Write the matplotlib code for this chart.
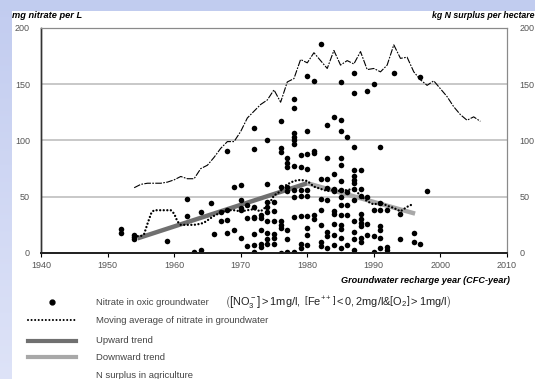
import numpy as np
import matplotlib
matplotlib.use("Agg")
import matplotlib.pyplot as plt
from matplotlib.lines import Line2D

plt.rcParams['font.family'] = ['Liberation Sans', 'DejaVu Sans']
plt.rcParams['mathtext.fontset'] = 'custom'
plt.rcParams['mathtext.rm'] = 'Liberation Sans'
plt.rcParams['mathtext.it'] = 'Liberation Sans:italic'

# N surplus in agriculture (kg N per hectare, right axis)
surplus_years = list(range(1954, 2007))
surplus_vals = [58, 61, 62, 62, 62, 63, 65, 68, 66, 66, 75, 78, 85, 93, 99, 99,
                108, 120, 126, 132, 136, 145, 134, 152, 155, 172, 169, 178, 171,
                164, 180, 167, 171, 168, 179, 163, 164, 161, 167, 185, 173, 174,
                161, 154, 149, 153, 146, 139, 130, 123, 118, 121, 117]

# moving average of nitrate in groundwater
ma_years = [1954, 1955, 1955.5, 1956, 1956.6, 1957, 1958, 1959, 1959.5, 1960,
            1960.5, 1961, 1962, 1963, 1964, 1964.5, 1965, 1966, 1967, 1968,
            1969, 1970, 1971, 1972, 1973, 1974, 1974.5, 1975, 1976, 1976.5,
            1977, 1978, 1979, 1980, 1981, 1982, 1983, 1984, 1985, 1986, 1987,
            1988, 1989, 1990, 1991, 1992, 1993, 1994, 1995, 1995.7]
ma_vals = [15, 15, 17, 26, 36, 38, 38, 38, 38, 35, 28, 25, 25, 25, 26, 27, 29,
           33, 36, 38, 38, 37, 38, 39, 37, 42, 46, 51, 55, 59, 61, 64, 65, 64,
           59, 57, 55, 56, 55, 56, 57, 51, 46, 43, 45, 42, 40, 37, 41, 43]

# trends
up_years = [1954.5, 1980]
up_vals = [13, 62]
down_years = [1980, 1996.2]
down_vals = [62, 35]

# nitrate in oxic groundwater, grouped by recharge year
nitrate = {
    1952: [21, 18],
    1954: [12, 14, 16],
    1959: [11],
    1962: [48, 33],
    1963: [1],
    1964: [3, 36],
    1965.5: [44],
    1966: [17],
    1967: [36, 28],
    1968: [91, 38, 29, 18],
    1969: [59, 20],
    1970: [60, 47, 40, 38, 13],
    1971: [43, 31, 6],
    1972: [111, 92, 41, 32, 31, 17, 7, 1],
    1973: [34, 31, 20, 8, 5],
    1974: [100, 61, 45, 41, 36, 28, 18, 12, 8],
    1975: [45, 37, 28, 17, 13, 8],
    1976: [117, 93, 90, 59, 28, 25, 22, 0],
    1977: [84, 80, 76, 59, 55, 20, 12, 1],
    1978: [137, 129, 107, 103, 100, 97, 77, 56, 50, 32, 1],
    1979: [87, 76, 56, 51, 33, 8, 4],
    1980: [157, 108, 88, 75, 56, 51, 33, 22, 16, 7],
    1981: [153, 91, 89, 34, 30],
    1982: [186, 66, 48, 38, 25, 10, 6],
    1983: [114, 84, 66, 58, 47, 19, 15, 4],
    1984: [121, 70, 57, 55, 37, 35, 26, 16, 7],
    1985: [152, 118, 108, 84, 78, 64, 56, 50, 43, 34, 25, 21, 13, 4],
    1986: [103, 54, 43, 34, 7],
    1987: [160, 142, 94, 74, 68, 65, 62, 57, 47, 28, 19, 12, 3],
    1988: [74, 57, 51, 35, 30, 27, 24, 13, 10],
    1989: [144, 50, 26, 16],
    1990: [150, 38, 15, 1],
    1991: [94, 44, 38, 24, 20, 13, 4],
    1992: [38, 5, 3],
    1993: [160],
    1994: [35, 12],
    1996: [18, 10],
    1997: [156, 8],
    1998: [55],
}
pt_x = [yr for yr, vals in nitrate.items() for v in vals]
pt_y = [v for yr, vals in nitrate.items() for v in vals]

fig = plt.figure(figsize=(5.35, 3.79), dpi=100)

# slide background: blue band on top and left
bg = fig.add_axes([0, 0, 1, 1], zorder=-10)
img = np.ones((379, 535, 3))
shade = np.linspace(0, 1, 379)[:, None]
left_col = np.array([0.76, 0.80, 0.94]) * (1 - shade) + np.array([0.87, 0.89, 0.97]) * shade
img[:, :12, :] = left_col[:, None, :]
img[:11, :, :] = [0.76, 0.80, 0.94]
bg.imshow(img, aspect='auto', interpolation='bilinear')
bg.axis('off')

ax = fig.add_axes([0.0766, 0.3325, 0.871, 0.5937])
ax.set_xlim(1940, 2010)
ax.set_ylim(0, 200)
ax.set_facecolor('none')

for g in [50, 100, 150]:
    ax.axhline(g, color='#c4c4c4', lw=1.3, zorder=0)

ax.scatter(pt_x, pt_y, s=16, color='black', zorder=4, linewidths=0)
ax.plot(up_years, up_vals, color='#707070', lw=3.2, solid_capstyle='butt', zorder=3)
ax.plot(down_years, down_vals, color='#a8a8a8', lw=3.2, solid_capstyle='butt', zorder=3)
ax.plot(ma_years, ma_vals, color='black', lw=1.7, linestyle=(0, (0.01, 1.5)),
        dash_capstyle='round', zorder=5)

ax2 = ax.twinx()
ax2.set_ylim(0, 200)
ax2.plot(surplus_years, surplus_vals, color='black', lw=0.8, linestyle=(0, (6, 1.2, 1.5, 1.2)))

ax.set_xticks(range(1940, 2011, 10))
ax.set_yticks([0, 50, 100, 150, 200])
ax2.set_yticks([0, 50, 100, 150, 200])
ax.tick_params(axis='x', labelsize=6.5, labelcolor='#555555', length=3, width=0.8, pad=3)
ax.tick_params(axis='y', labelsize=6.5, labelcolor='#555555', length=0, pad=8)
ax2.tick_params(axis='y', labelsize=6.5, labelcolor='#555555', length=0, pad=9)

for a in (ax, ax2):
    a.spines['top'].set_color('#8a8a8a')
    a.spines['right'].set_color('#8a8a8a')
    a.spines['left'].set_color('#333333')
    a.spines['bottom'].set_color('#222222')
    a.spines['bottom'].set_linewidth(1.3)
    a.spines['left'].set_linewidth(1.0)

fig.text(0.0224, 0.960, 'mg nitrate per L', fontsize=6.7, fontweight='bold',
         fontstyle='italic', va='center', ha='left')
fig.text(0.999, 0.960, 'kg N surplus per hectare', fontsize=6.3, fontweight='bold',
         fontstyle='italic', va='center', ha='right')
fig.text(0.953, 0.2586, 'Groundwater recharge year (CFC-year)', fontsize=6.6,
         fontweight='bold', fontstyle='italic', va='center', ha='right')

# legend drawn below the chart
legend_labels = ['Nitrate in oxic groundwater',
                 'Moving average of nitrate in groundwater',
                 'Upward trend',
                 'Downward trend',
                 'N surplus in agriculture']
leg_y = [0.203, 0.155, 0.1003, 0.058, 0.008]
x0, x1 = 0.052, 0.142
fig.add_artist(Line2D([(x0 + x1) / 2], [leg_y[0]], marker='o', ms=3.5,
                      color='black', lw=0, transform=fig.transFigure))
fig.add_artist(Line2D([x0, x1], [leg_y[1]] * 2, color='black', lw=1.5,
                      linestyle=(0, (0.01, 1.7)), dash_capstyle='round',
                      transform=fig.transFigure))
fig.add_artist(Line2D([x0, x1], [leg_y[2]] * 2, color='#707070', lw=3,
                      transform=fig.transFigure))
fig.add_artist(Line2D([x0, x1], [leg_y[3]] * 2, color='#a8a8a8', lw=3,
                      transform=fig.transFigure))
fig.add_artist(Line2D([x0, x1], [leg_y[4] - 0.012] * 2, color='black', lw=0.9,
                      linestyle=(0, (6, 1.2, 1.5, 1.2)), transform=fig.transFigure))
for lab, yy in zip(legend_labels, leg_y):
    fig.text(0.179, yy, lab, fontsize=6.8, color='#444444', va='center', ha='left')

formula = (r'$\left(\left[\mathrm{NO_3^-}\right]>1\mathrm{mg/l},\ '
           r'\left[\mathrm{Fe^{++}}\right]<0,2\mathrm{mg/l}&\left[\mathrm{O_2}\right]>1\mathrm{mg/l}\right)$')
fig.text(0.421, leg_y[0], formula, fontsize=7.9, color='#222222', va='center', ha='left')

fig.savefig('out.png', dpi=100)
